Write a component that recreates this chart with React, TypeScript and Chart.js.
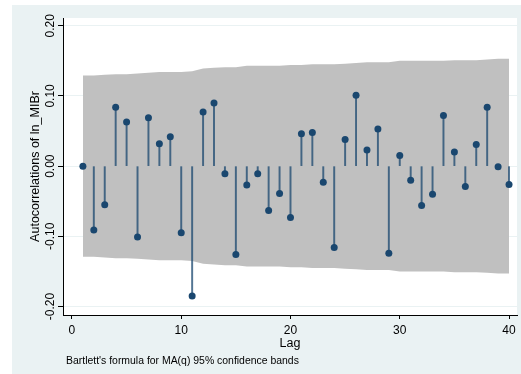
import React, { useEffect, useRef } from "react";
import { Chart, registerables } from "chart.js";

Chart.register(...registerables);

const lags = [1, 2, 3, 4, 5, 6, 7, 8, 9, 10, 11, 12, 13, 14, 15, 16, 17, 18, 19, 20, 21, 22, 23, 24, 25, 26, 27, 28, 29, 30, 31, 32, 33, 34, 35, 36, 37, 38, 39, 40];
const acf = [0.000, -0.091, -0.055, 0.084, 0.063, -0.101, 0.069, 0.032, 0.042, -0.095, -0.185, 0.077, 0.090, -0.011, -0.126, -0.027, -0.011, -0.063, -0.039, -0.073, 0.046, 0.048, -0.023, -0.116, 0.038, 0.101, 0.023, 0.053, -0.124, 0.015, -0.020, -0.056, -0.040, 0.072, 0.020, -0.029, 0.031, 0.084, -0.001, -0.026];
const bandUpper = [0.129, 0.129, 0.130, 0.131, 0.131, 0.132, 0.133, 0.134, 0.134, 0.134, 0.135, 0.139, 0.140, 0.141, 0.141, 0.143, 0.143, 0.143, 0.143, 0.144, 0.144, 0.145, 0.145, 0.145, 0.146, 0.147, 0.148, 0.148, 0.148, 0.150, 0.150, 0.150, 0.150, 0.150, 0.151, 0.151, 0.151, 0.152, 0.153, 0.153];
const bandLower = bandUpper.map((v) => -v);
const xTicks = [0, 10, 20, 30, 40];
const yTicks = [-0.2, -0.1, 0, 0.1, 0.2];
const yTickLabels = ["-0.20", "-0.10", "0.00", "0.10", "0.20"];
const xTitle = "Lag";
const yTitle = "Autocorrelations of ln_MIBr";
const note = "Bartlett's formula for MA(q) 95% confidence bands";

const FONT = "'Liberation Sans', Arial, Helvetica, sans-serif";
const NAVY = "#1A476F";
const BG = "#EAF2F3";

export default function App() {
  const ref = useRef<HTMLCanvasElement | null>(null);

  useEffect(() => {
    const canvas = ref.current;
    if (!canvas) return;

    const bgPlugin = {
      id: "bgPlugin",
      beforeDraw(chart: any) {
        const { ctx, chartArea } = chart;
        ctx.save();
        ctx.fillStyle = "#ffffff";
        ctx.fillRect(0, 0, chart.width, chart.height);
        ctx.fillStyle = BG;
        ctx.fillRect(12, 5, chart.width - 12, chart.height - 5);
        ctx.fillStyle = "#ffffff";
        ctx.fillRect(chartArea.left, chartArea.top, chartArea.right - chartArea.left, chartArea.bottom - chartArea.top);
        ctx.restore();
      },
    };

    const textPlugin = {
      id: "textPlugin",
      afterDraw(chart: any) {
        const { ctx, chartArea } = chart;
        const xs = chart.scales.x;
        const ys = chart.scales.y;
        ctx.save();
        ctx.fillStyle = "#000000";
        ctx.font = `12px ${FONT}`;
        ctx.textAlign = "center";
        ctx.textBaseline = "alphabetic";
        xTicks.forEach((t) => {
          ctx.fillText(String(t), xs.getPixelForValue(t), 333.5);
        });
        ctx.font = `12.5px ${FONT}`;
        ctx.fillText(xTitle, (chartArea.left + chartArea.right) / 2, 346.5);
        ctx.font = `12px ${FONT}`;
        yTicks.forEach((t, i) => {
          ctx.save();
          ctx.translate(53.5, ys.getPixelForValue(t));
          ctx.rotate(-Math.PI / 2);
          ctx.textAlign = "center";
          ctx.textBaseline = "alphabetic";
          ctx.fillText(yTickLabels[i], 0, 0);
          ctx.restore();
        });
        ctx.save();
        ctx.font = `12.5px ${FONT}`;
        ctx.translate(39, (chartArea.top + chartArea.bottom) / 2);
        ctx.rotate(-Math.PI / 2);
        ctx.textAlign = "center";
        ctx.textBaseline = "alphabetic";
        ctx.fillText(yTitle, 0, 0);
        ctx.restore();
        ctx.font = `10.45px ${FONT}`;
        ctx.textAlign = "left";
        ctx.fillText(note, 66, 363.5);
        ctx.restore();
      },
    };

    const chart = new Chart(canvas, {
      type: "bar",
      data: {
        datasets: [
          {
            type: "line",
            data: lags.map((l, i) => ({ x: l, y: bandUpper[i] })),
            borderWidth: 0,
            borderColor: "rgba(0,0,0,0)",
            backgroundColor: "#C0C0C0",
            pointRadius: 0,
            fill: "+1",
            tension: 0,
            order: 10,
          } as any,
          {
            type: "line",
            data: lags.map((l, i) => ({ x: l, y: bandLower[i] })),
            borderWidth: 0,
            borderColor: "rgba(0,0,0,0)",
            backgroundColor: "#C0C0C0",
            pointRadius: 0,
            fill: false,
            tension: 0,
            order: 10,
          } as any,
          {
            type: "bar",
            data: lags.map((l, i) => ({ x: l, y: acf[i] })),
            backgroundColor: "rgba(26,71,111,0.75)",
            borderWidth: 0,
            barThickness: 1.3,
            grouped: false,
            order: 5,
          } as any,
          {
            type: "line",
            data: lags.map((l, i) => ({ x: l, y: acf[i] })),
            showLine: false,
            pointRadius: 3.5,
            pointBackgroundColor: NAVY,
            pointBorderWidth: 0,
            pointBorderColor: NAVY,
            order: 1,
          } as any,
        ],
      },
      options: {
        responsive: false,
        animation: false,
        devicePixelRatio: 1,
        layout: { padding: { left: 0, top: 18, right: 4, bottom: 0 } },
        plugins: {
          legend: { display: false },
          tooltip: { enabled: false },
        },
        scales: {
          x: {
            type: "linear",
            offset: false,
            min: -0.82,
            max: 40.73,
            afterBuildTicks: (scale: any) => {
              scale.ticks = xTicks.map((v) => ({ value: v }));
            },
            afterFit: (scale: any) => {
              scale.height = 59;
            },
            ticks: { display: false },
            grid: {
              offset: false,
              drawOnChartArea: false,
              drawTicks: true,
              tickLength: 4,
              tickColor: "#000000",
              tickWidth: 1,
            },
            border: { display: true, color: "#000000", width: 1 },
          },
          y: {
            type: "linear",
            min: -0.212,
            max: 0.211,
            afterBuildTicks: (scale: any) => {
              scale.ticks = yTicks.map((v) => ({ value: v }));
            },
            afterFit: (scale: any) => {
              scale.width = 63;
            },
            ticks: { display: false },
            grid: {
              drawOnChartArea: true,
              color: BG,
              lineWidth: 1,
              drawTicks: true,
              tickLength: 5,
              tickColor: "#000000",
              tickWidth: 1,
            },
            border: { display: true, color: "#000000", width: 1 },
          },
        },
      } as any,
      plugins: [bgPlugin, textPlugin],
    });

    return () => chart.destroy();
  }, []);

  return (
    <div style={{ position: "absolute", left: 0, top: 0, width: 521, height: 374 }}>
      <canvas ref={ref} width={521} height={374} style={{ display: "block", width: 521, height: 374 }} />
    </div>
  );
}
